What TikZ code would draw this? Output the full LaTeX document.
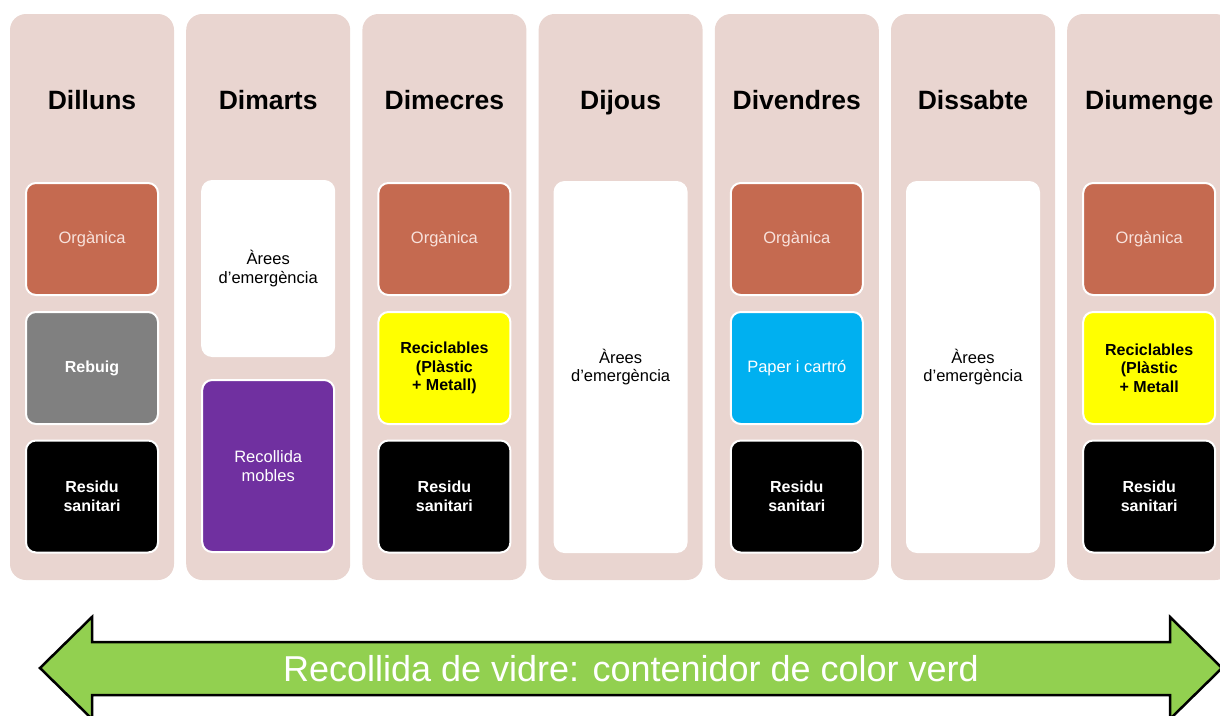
\documentclass[tikz,border=0pt]{standalone}
\usepackage{fontspec}
\setmainfont{Liberation Sans}
\usetikzlibrary{positioning}
\definecolor{dayPink}{RGB}{233,213,208}
\definecolor{binOrg}{RGB}{197,106,80}
\definecolor{binOrgText}{RGB}{248,226,220}
\definecolor{binGray}{RGB}{128,128,128}
\definecolor{binYellow}{RGB}{255,255,0}
\definecolor{binBlue}{RGB}{0,176,240}
\definecolor{binPurple}{RGB}{112,48,160}
\definecolor{glassGreen}{RGB}{146,208,80}
\newcommand{\colStep}[0]{176.2}

\begin{document}
\begin{tikzpicture}[x=1pt, y=-1pt]
  \tikzset{
    daycol/.style={fill=dayPink, rounded corners=16pt, minimum width=164pt,
      minimum height=566pt, inner sep=0pt},
    daytitle/.style={font=\fontsize{26.5}{30}\selectfont\bfseries, anchor=base},
    binbox/.style={draw=white, line width=2pt, rounded corners=10pt, inner sep=0pt,
      minimum width=132pt, minimum height=112pt, align=center,
      font=\fontsize{16.5}{18.5}\selectfont},
    boldbin/.style={binbox, font=\fontsize{16}{18.5}\selectfont\bfseries},
    tallbox/.style={binbox, fill=white, text=black},
  }
  \useasboundingbox (0,0) rectangle (1220,715);
  \clip (0,0) rectangle (1220,715);
  \coordinate (row-t) at (0,109);
  \coordinate (row-a) at (0,239);
  \coordinate (row-b) at (0,368);
  \coordinate (row-c) at (0,496.5);
  \coordinate (row-d) at (0,268.5);
  \coordinate (row-e) at (0,466);
  \coordinate (row-f) at (0,367);
  \foreach \d [count=\i] in {Dilluns,Dimarts,Dimecres,Dijous,Divendres,Dissabte,Diumenge} {
    \node[daycol] (col-\i) at ({92+(\i-1)*\colStep},297) {};
    \node[daytitle] (day-\i) at (col-\i |- row-t) {\d};
  }
  % Dilluns
  \node[binbox, fill=binOrg, text=binOrgText] (bin-1-1) at (col-1 |- row-a) {Orgànica};
  \node[boldbin, fill=binGray, text=white] (bin-1-2) at (col-1 |- row-b) {Rebuig};
  \node[boldbin, fill=black, text=white] (bin-1-3) at (col-1 |- row-c) {Residu\\sanitari};
  % Dimarts
  \node[tallbox, minimum height=175pt] (bin-2-1) at (col-2 |- row-d) {Àrees\\d’emergència};
  \node[binbox, fill=binPurple, text=white, minimum height=172pt]
    (bin-2-2) at (col-2 |- row-e) {Recollida\\mobles};
  % Dimecres
  \node[binbox, fill=binOrg, text=binOrgText] (bin-3-1) at (col-3 |- row-a) {Orgànica};
  \node[boldbin, fill=binYellow, text=black] (bin-3-2) at (col-3 |- row-b)
    {Reciclables\\(Plàstic\\+ Metall)};
  \node[boldbin, fill=black, text=white] (bin-3-3) at (col-3 |- row-c) {Residu\\sanitari};
  % Dijous
  \node[tallbox, minimum height=370pt] (bin-4-1) at (col-4 |- row-f) {Àrees\\d’emergència};
  % Divendres
  \node[binbox, fill=binOrg, text=binOrgText] (bin-5-1) at (col-5 |- row-a) {Orgànica};
  \node[binbox, fill=binBlue, text=white] (bin-5-2) at (col-5 |- row-b) {Paper i cartró};
  \node[boldbin, fill=black, text=white] (bin-5-3) at (col-5 |- row-c) {Residu\\sanitari};
  % Dissabte
  \node[tallbox, minimum height=370pt] (bin-6-1) at (col-6 |- row-f) {Àrees\\d’emergència};
  % Diumenge
  \node[binbox, fill=binOrg, text=binOrgText] (bin-7-1) at (col-7 |- row-a) {Orgànica};
  \node[boldbin, fill=binYellow, text=black] (bin-7-2) at (col-7 |- row-b)
    {Reciclables\\(Plàstic\\+ Metall};
  \node[boldbin, fill=black, text=white] (bin-7-3) at (col-7 |- row-c) {Residu\\sanitari};
  % glass collection arrow
  \draw[fill=glassGreen, line width=2.5pt, line join=miter]
    (40,668) -- (92,617) -- (92,642) -- (1170,642) -- (1170,617) -- (1222,668)
    -- (1170,719) -- (1170,695) -- (92,695) -- (92,719) -- cycle;
  \node[text=white, font=\fontsize{36}{40}\selectfont] (glass) at (631,669)
    {Recollida de vidre: contenidor de color verd};
\end{tikzpicture}
\end{document}
